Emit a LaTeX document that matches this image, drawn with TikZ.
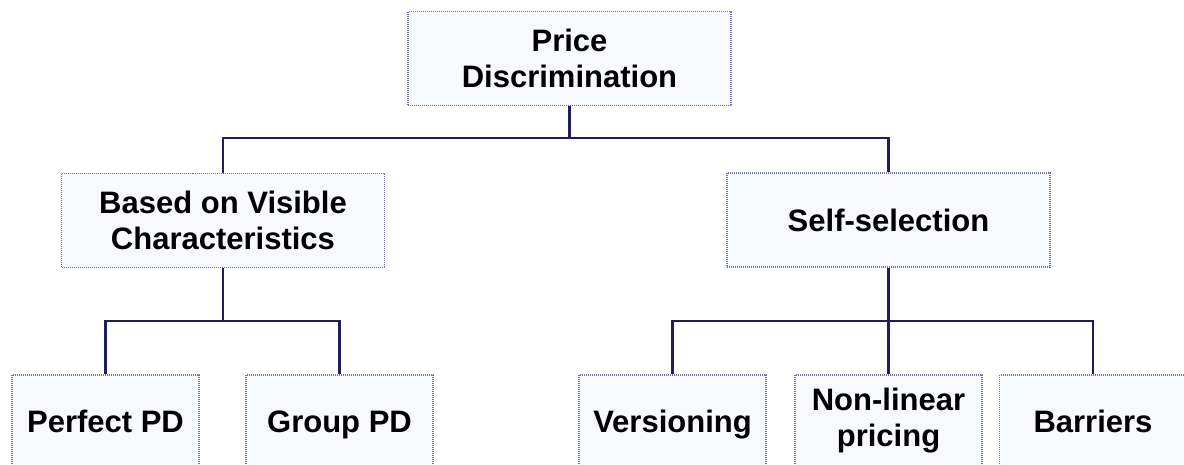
\documentclass[tikz,border=0pt]{standalone}
\usepackage{fontspec}
\setmainfont{Liberation Sans}
\definecolor{boxfill}{RGB}{246,250,253}
\definecolor{boxedge}{RGB}{110,110,165}
\definecolor{linkcol}{RGB}{30,30,90}
\begin{document}
\begin{tikzpicture}[x=1pt,y=-1pt,
  pdbox/.style={draw=boxedge, fill=boxfill, line width=1.2pt, dash pattern=on 1pt off 1pt,
    align=center, inner sep=0pt, font=\bfseries\fontsize{31}{36}\selectfont},
  oneline/.style={text height=22pt, text depth=0pt},
  bigbox/.style={pdbox, minimum width=323pt, minimum height=94pt},
  smallbox/.style={pdbox, minimum width=187pt, minimum height=92pt},
  link/.style={draw=linkcol, line width=2.2pt}]
\useasboundingbox (0,0) rectangle (1184,464);
\node[bigbox] (top) at (569.5,58.5) {Price\\Discrimination};
\node[bigbox] (bvc) at (223,220.5) {Based on Visible\\Characteristics};
\node[bigbox, oneline] (ss) at (888.5,220) {Self-selection};
\node[smallbox, oneline] (ppd) at (105.5,421) {Perfect PD};
\node[smallbox, oneline] (gpd) at (339.5,421) {Group PD};
\node[smallbox, oneline] (ver) at (672.5,421) {Versioning};
\node[smallbox] (nlp) at (888.5,421) {Non-linear\\pricing};
\node[smallbox, oneline] (bar) at (1093,421) {Barriers};
\coordinate (j1) at (569.5,138);
\coordinate (j2) at (223,321);
\coordinate (j3) at (888.5,321);
\draw[link] (top.south) -- (j1);
\draw[link] (j1) -| (bvc.north);
\draw[link] (j1) -| (ss.north);
\draw[link] (bvc.south) -- (j2);
\draw[link] (j2) -| (ppd.north);
\draw[link] (j2) -| (gpd.north);
\draw[link] (ss.south) -- (j3);
\draw[link] (j3) -| (ver.north);
\draw[link] (j3) -- (nlp.north);
\draw[link] (j3) -| (bar.north);
\end{tikzpicture}
\end{document}
